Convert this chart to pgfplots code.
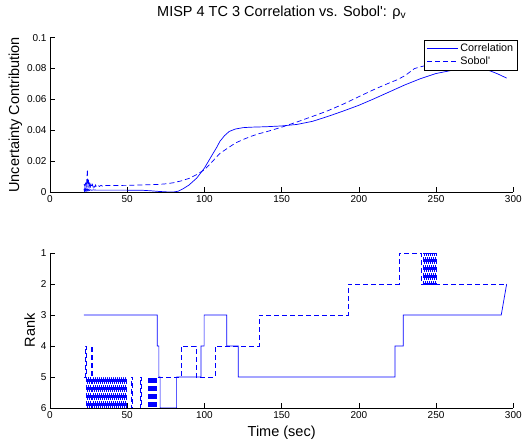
\documentclass[border=0pt]{standalone}
\usepackage{pgfplots}
\pgfplotsset{compat=1.18}
\usepackage{fontspec}
\setmainfont{Liberation Sans}
\definecolor{mblue}{RGB}{0,0,255}
\begin{document}
\begin{tikzpicture}
\useasboundingbox (0pt,0pt) rectangle (531pt,444pt);
\pgfplotsset{
  every axis/.append style={
    scale only axis,
    width=463.3pt,
    axis lines=left,
    axis line style={-, black, line width=0.5pt},
    tick align=inside,
    major tick length=4.5pt,
    tick style={black, line width=0.5pt},
    xmin=0, xmax=300,
    xtick={0,50,100,150,200,250,300},
    /pgf/number format/assume math mode=true,
    tick label style={font=\fontsize{10}{12}\selectfont},
    label style={font=\fontsize{14.5}{17}\selectfont},
  },
}
% ---------------- top axis ----------------
\begin{axis}[
  at={(50pt,252pt)}, anchor=south west,
  height=154.3pt,
  ymin=0, ymax=0.1,
  ytick={0,0.02,0.04,0.06,0.08,0.1},
  yticklabels={0,0.02,0.04,0.06,0.08,0.1},
  ylabel={Uncertainty Contribution},
  ylabel style={at={(axis description cs:-0.0669,0.5)}, anchor=base, rotate=0},
  title={MISP 4 TC 3 Correlation vs. Sobol\textquotesingle: ρ\textsubscript{v}},
  title style={at={(axis description cs:0.5,1)}, anchor=base, yshift=15.5pt, font=\fontsize{14.5}{17}\selectfont},
  legend style={at={(axis description cs:1.009,0.985)}, anchor=north east,
    draw=black, fill=white, line width=0.5pt, font=\fontsize{10.8}{13}\selectfont,
    inner xsep=2pt, inner ysep=1.5pt, row sep=0pt},
  legend cell align=left,
  legend image code/.code={\draw[#1] (0pt,0pt) -- (31pt,0pt);},
]
\addplot[draw=mblue, color=mblue, line width=0.7pt, solid] coordinates {
(22,0.002) (22.3,0.0005) (22.6,0.003) (23,0.0008) (23.4,0.0022) (23.8,0.0006)
(24.2,0.0018) (24.6,0.0008) (25,0.0016) (25.5,0.001) (26,0.0015) (27,0.0011)
(28,0.0014) (30,0.0012) (40,0.0012) (50,0.0012) (60,0.0011) (65,0.0008)
(70,0.0004) (75,0.0001) (80,0.0) (83,0.0005) (86,0.002) (90,0.0045) (95,0.009)
(100,0.0155) (105,0.024) (108,0.029) (110,0.0328) (113,0.0365) (116,0.0392)
(120,0.0408) (125,0.0417) (130,0.042) (140,0.0423) (150,0.0428) (160,0.0438)
(170,0.0458) (180,0.049) (190,0.0525) (200,0.0562) (210,0.0605) (220,0.065)
(230,0.0695) (240,0.0735) (250,0.0768) (260,0.0788) (270,0.0798) (275,0.080)
(280,0.0795) (285,0.0785) (290,0.0765) (295.7,0.0738)
};
\addlegendentry{Correlation}
\addplot[draw=mblue, color=mblue, line width=0.7pt, dash pattern=on 5pt off 3pt] coordinates {
(22,0.005) (22.6,0.004) (23.2,0.007) (23.6,0.003) (24.2,0.0147) (24.5,0.003)
(24.9,0.008) (25.3,0.003) (25.7,0.005) (26.1,0.0025) (26.5,0.005) (27,0.003)
(27.5,0.0048) (28,0.003) (28.5,0.0046) (29,0.0032) (29.5,0.0045) (30,0.0034)
(31,0.0044) (32,0.0036) (33,0.0043) (34,0.0038) (35,0.0042) (40,0.0042)
(50,0.0043) (60,0.0046) (70,0.0049) (75,0.0053) (80,0.006) (85,0.0072)
(90,0.0088) (95,0.0113) (100,0.0144) (105,0.0196) (110,0.025) (115,0.0284)
(120,0.0317) (125,0.034) (130,0.036) (135,0.0377) (140,0.039) (145,0.0405)
(150,0.042) (155,0.0437) (160,0.0454) (170,0.049) (175,0.0508) (180,0.0527)
(190,0.057) (200,0.0618) (210,0.0665) (220,0.0708) (225,0.0728) (230,0.0755)
(236,0.080) (245,0.0825) (255,0.0838) (265,0.0842) (275,0.0838) (285,0.0828)
(295.7,0.0812)
};
\addlegendentry{Sobol\textquotesingle}
\end{axis}
% ---------------- bottom axis ----------------
\begin{axis}[
  at={(50pt,36pt)}, anchor=south west,
  height=155pt,
  y dir=reverse,
  ymin=1, ymax=6,
  ytick={1,2,3,4,5,6},
  ylabel={Rank},
  ylabel style={at={(axis description cs:-0.0324,0.5)}, anchor=base, rotate=0},
  xlabel={Time (sec)},
  xlabel style={at={(axis description cs:0.5,-0.187)}, anchor=base},
]
\addplot[draw=mblue, color=mblue, line width=0.7pt, solid] coordinates {
(22,3) (69.5,3) (69.5,4) (70.5,4) (70.5,5) (71.3,5) (71.3,6) (82,6) (82,5)
(97.8,5) (97.8,4) (99.8,4) (99.8,3) (114.4,3) (114.4,4) (121.9,4) (121.9,5)
(223.4,5) (223.4,4) (228.8,4) (228.8,3) (292.2,3) (295.7,2)
};
\addplot[draw=mblue, color=mblue, line width=0.7pt, dash pattern=on 5pt off 3pt, const plot] coordinates {
(22.016,5) (22.664,4) (23.311,6) (23.959,5) (24.606,6) (25.254,5) (25.901,6)
(26.549,4) (27.196,6) (27.844,5) (28.491,6) (29.139,5) (29.786,6) (30.434,5)
(31.081,6) (31.729,5) (32.376,6) (33.024,5) (33.672,6) (34.319,5) (34.967,6)
(35.614,5) (36.262,6) (36.909,5) (37.557,6) (38.204,5) (38.852,6) (39.499,5)
(40.147,6) (40.794,5) (41.442,6) (42.089,5) (42.737,6) (43.384,5) (44.032,6)
(44.680,5) (45.327,6) (45.975,5) (46.622,6) (47.270,5) (47.917,6) (48.565,5)
(49.212,6)
(52.450,5) (53.098,6) (58.278,5) (58.925,6)
(63.458,5) (64.105,6) (64.753,5) (65.400,6) (66.048,5) (66.695,6) (67.343,5)
(67.991,6) (68.638,5)
(84.826,4) (94.539,5) (106.842,4) (135.334,3) (192.964,2) (225.988,1) (240.233,2)
(241.528,1) (242.176,2) (242.823,1) (243.471,2) (244.118,1) (244.766,2)
(245.414,1) (246.061,2) (246.709,1) (247.356,2) (248.004,1) (248.651,2)
(249.299,1) (249.946,2) (295.7,2)
};
\end{axis}
\end{tikzpicture}
\end{document}
